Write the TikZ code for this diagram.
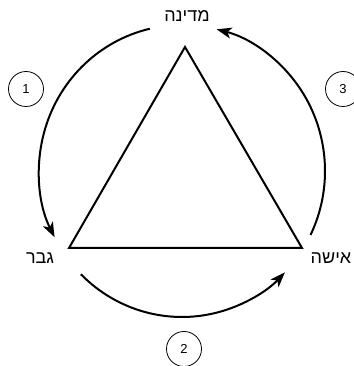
\documentclass[tikz,border=0pt]{standalone}
\usepackage{fontspec}
\setmainfont{Liberation Sans}
\newfontfamily\hebfont[Script=Hebrew]{Liberation Sans}
\TeXXeTstate=1
\usetikzlibrary{arrows.meta,positioning,calc}

\begin{document}
\begin{tikzpicture}[
    x=1pt, y=1pt,
    party/.style={font=\hebfont\fontsize{18}{20}\selectfont, inner sep=1pt},
    stage/.style={draw, circle, line width=0.8pt, minimum size=35pt, inner sep=0pt, font=\fontsize{13}{15}\selectfont},
    cycle arrow/.style={line width=2pt, -{Stealth[length=15pt, width=11pt, inset=4pt]}},
]
\useasboundingbox (0,0) rectangle (353,366);

\node[party] (medina) at (187,350) {\beginR מדינה\endR};
\node[party] (gever) at (40,108) {\beginR גבר\endR};
\node[party] (isha) at (331,108) {\beginR אישה\endR};

\node[stage] (one) at (26,277) {1};
\node[stage] (two) at (184,17) {2};
\node[stage] (three) at (343,277) {3};

\coordinate (top) at (185,319);
\coordinate (left) at (69,118);
\coordinate (right) at (302,118);
\draw[line width=2pt, line join=miter] (top) -- (left) -- (right) -- cycle;

\coordinate (ctr) at (182,195);
\coordinate (s1) at ($(ctr)+(103:143pt and 146pt)$);
\coordinate (s2) at ($(ctr)+(225:143pt and 146pt)$);
\coordinate (s3) at ($(ctr)+(-26:143pt and 146pt)$);

\draw[cycle arrow] (s1) arc[start angle=103, end angle=207, x radius=143pt, y radius=146pt];
\draw[cycle arrow] (s2) arc[start angle=225, end angle=316, x radius=143pt, y radius=146pt];
\draw[cycle arrow] (s3) arc[start angle=-26, end angle=76, x radius=143pt, y radius=146pt];
\end{tikzpicture}
\end{document}
